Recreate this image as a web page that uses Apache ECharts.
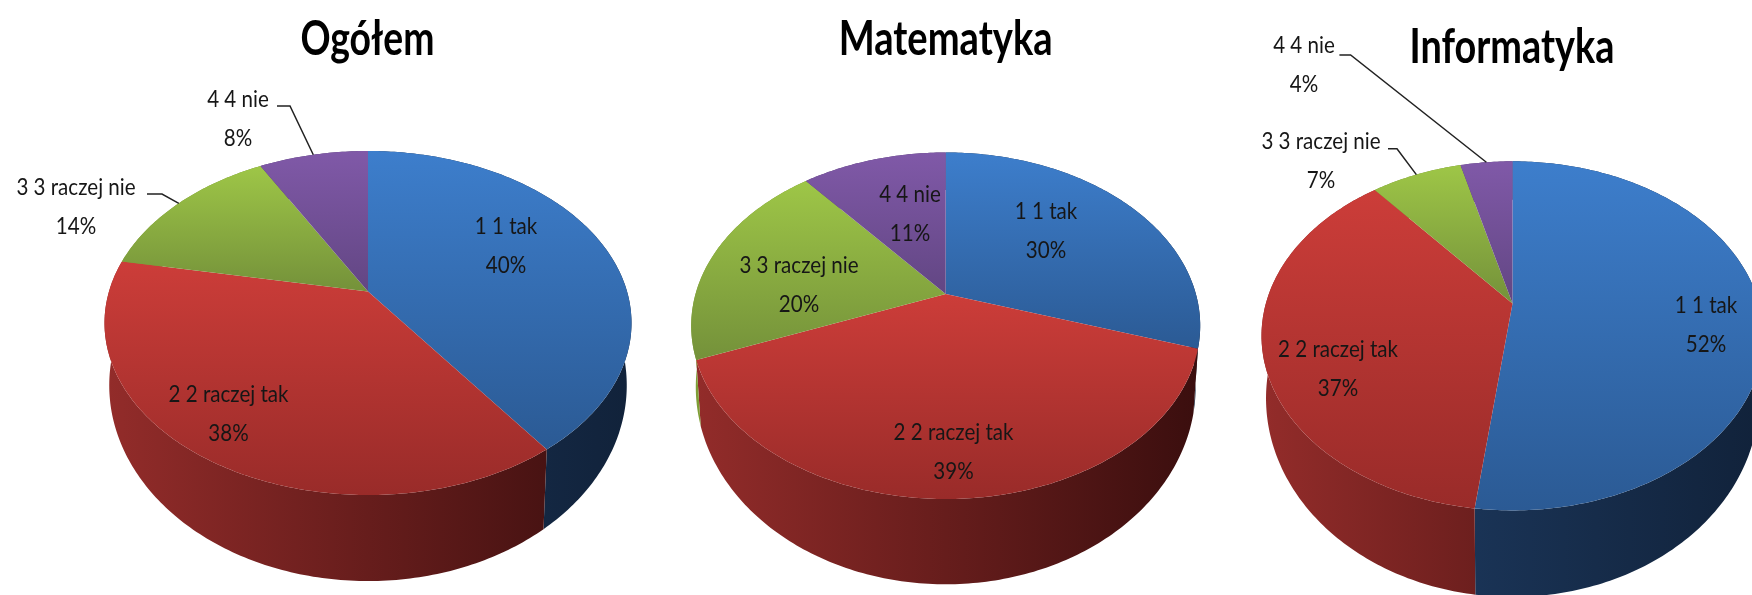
<!DOCTYPE html>
<html><head><meta charset="utf-8">
<script src="https://cdn.jsdelivr.net/npm/echarts@6/dist/echarts.min.js"></script>
<style>html,body{margin:0;background:#fff}#c{width:1752px;height:595px;filter:blur(0.6px)}</style>
</head><body><div id="c"></div>
<script>
const categories = ['1 1 tak', '2 2 raczej tak', '3 3 raczej nie', '4 4 nie'];
const titles = ['Ogółem', 'Matematyka', 'Informatyka'];
const ogolem = [40, 38, 14, 8];
const matematyka = [30, 39, 20, 11];
const informatyka = [52, 37, 7, 4];
const seriesValues = [ogolem, matematyka, informatyka];

// layout of each drawn disc (apex, half width, extent above and below apex, wall offset)
const discs = [
  {cx: 368, cy: 291.5, rx: 263.5, up: 140.5, down: 203.5, dy: 58, title: [367.5, 39.5, 134]},
  {cx: 945.7, cy: 294, rx: 254.5, up: 141.5, down: 205, dy: 57, title: [945.7, 40, 214]},
  {cx: 1512.5, cy: 303.6, rx: 251, up: 142.3, down: 206.8, dy: 58, title: [1512, 48, 205]}
];
const labelPos = [
  [[506, 246], [228.5, 414], [76, 207], [238, 119]],
  [[1046, 231], [953.5, 452], [799, 285], [910, 214]],
  [[1706, 324.5], [1338, 368.5], [1321, 161], [1304, 65]]
];
// leader elbows [label side start, elbow] ; null when the label sits on the slice
const leaders = [
  [null, null, [[147, 194], [162, 194]], [[277, 106], [290, 106]]],
  [null, null, null, null],
  [null, null, [[1388, 148.8], [1397, 148.8]], [[1339.4, 55], [1350.6, 55]]]
];
const topColors = [['#3d7ecc', '#2b5a94'], ['#cc3d39', '#992b29'], ['#9ec647', '#74913a'], ['#8059a8', '#624683']];
const wallColors = [['#20406a', '#11223a'], ['#932c2a', '#3a0e0e'], ['#7f9f36', '#4a5e20'], ['#5e4480', '#3a2a50']];
const FONT = 'Lato,"Liberation Sans",sans-serif';
const LABEL_SIZE = 24, TITLE_SIZE = 48, LABEL_REF_WIDTH = 120;
const SX = 0.982, SY = 1.138;

const mctx = document.createElement('canvas').getContext('2d');
function fit(text, weight, size, target) {
  mctx.font = weight + ' ' + size + 'px ' + FONT;
  return target / mctx.measureText(text).width;
}
const labelScale = fit(categories[1], 'normal', LABEL_SIZE, LABEL_REF_WIDTH);

function project(d, theta, level) {
  const k = (d.down - d.up) / (d.down + d.up);
  const B = d.up * (1 + k), A = d.rx * Math.sqrt(1 - k * k);
  const x = Math.sin(theta), y = -Math.cos(theta), w = 1 - k * y;
  const px = A * x / w, py = B * y / w;
  return level ? [d.cx + SX * px, d.cy + d.dy + SY * py] : [d.cx + px, d.cy + py];
}
function arc(d, a0, a1, level) {
  const n = Math.max(2, Math.ceil((a1 - a0) / 0.015)), pts = [];
  for (let i = 0; i <= n; i++) pts.push(project(d, a0 + (a1 - a0) * i / n, level));
  return pts;
}
function rangeOf(vals, i) {
  const tot = vals.reduce((a, b) => a + b, 0);
  const before = vals.slice(0, i).reduce((a, b) => a + b, 0);
  return [before / tot * 2 * Math.PI, (before + vals[i]) / tot * 2 * Math.PI];
}
function grad(c, h, d) {
  return h
    ? {type: 'linear', x: d.cx - d.rx, y: 0, x2: d.cx + d.rx, y2: 0, global: true,
       colorStops: [{offset: 0, color: c[0]}, {offset: 1, color: c[1]}]}
    : {type: 'linear', x: 0, y: 0, x2: 0, y2: 1,
       colorStops: [{offset: 0, color: c[0]}, {offset: 1, color: c[1]}]};
}
function txt(x, y, text, size, weight, fill, sx) {
  return {type: 'text', x: x, y: y, scaleX: sx, scaleY: 1,
    style: {x: 0, y: 0, text: text, align: 'center', verticalAlign: 'middle',
      fontFamily: FONT, fontSize: size, fontWeight: weight, fill: fill}};
}
const series = [];
seriesValues.forEach((vals, p) => {
  const d = discs[p];
  const rows = vals.map((v, i) => [v, i]);
  series.push({type: 'custom', coordinateSystem: 'none', silent: true, data: rows, z: 1,
    renderItem: (_, api) => {
      const i = api.value(1), [a0, a1] = rangeOf(vals, i);
      const pts = arc(d, a0, a1, 0).concat(arc(d, a0, a1, 1).reverse());
      return {type: 'polygon', shape: {points: pts}, style: {fill: grad(wallColors[i], true, d)}};
    }});
  series.push({type: 'custom', coordinateSystem: 'none', silent: true, data: rows, z: 2,
    renderItem: (_, api) => {
      const i = api.value(1), [a0, a1] = rangeOf(vals, i);
      const pts = [[d.cx, d.cy]].concat(arc(d, a0, a1, 0));
      return {type: 'polygon', shape: {points: pts}, style: {fill: grad(topColors[i], false, d)}};
    }});
  series.push({type: 'custom', coordinateSystem: 'none', silent: true, data: rows, z: 3,
    renderItem: (_, api) => {
      const i = api.value(1), [a0, a1] = rangeOf(vals, i);
      const pos = labelPos[p][i], kids = [];
      kids.push(txt(pos[0], pos[1] - 19.5, categories[i], LABEL_SIZE, 'normal', '#161616', labelScale));
      kids.push(txt(pos[0], pos[1] + 19.5, api.value(0) + '%', LABEL_SIZE, 'normal', '#161616', labelScale));
      if (leaders[p][i]) {
        const end = project(d, (a0 + a1) / 2, 0);
        kids.push({type: 'polyline', shape: {points: leaders[p][i].concat([end])},
          style: {stroke: '#222', lineWidth: 1.5, fill: 'none'}});
      }
      if (i === 0) {
        const t = d.title;
        kids.push(txt(t[0], t[1], titles[p], TITLE_SIZE, 'bold', '#000', fit(titles[p], 'bold', TITLE_SIZE, t[2])));
      }
      return {type: 'group', children: kids};
    }});
});
const chart = echarts.init(document.getElementById('c'), null, {renderer: 'canvas'});
chart.setOption({animation: false, backgroundColor: '#fff', series});
</script></body></html>
